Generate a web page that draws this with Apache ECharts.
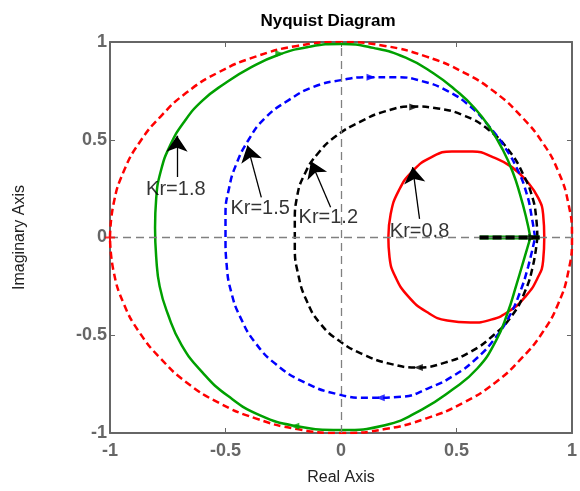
<!DOCTYPE html>
<html>
<head>
<meta charset="utf-8">
<script src="https://cdn.jsdelivr.net/npm/echarts@6/dist/echarts.min.js"></script>
<style>
  html, body { margin: 0; padding: 0; background: #fff; }
  #chart { width: 580px; height: 491px; }
</style>
</head>
<body>
<div id="chart"></div>
<script>
// axis ticks
const tickVals = [-1, -0.5, 0, 0.5, 1];

// traced curves (real, imag)
const unitRef = [[-1.0,0.0],[-0.985,0.17],[-0.94,0.34],[-0.87,0.49],[-0.78,0.62],[-0.67,0.74],[-0.53,0.845],[-0.37,0.925],[-0.19,0.98],[0.0,1.0],[0.19,0.98],[0.37,0.925],[0.53,0.845],[0.67,0.74],[0.78,0.62],[0.87,0.49],[0.94,0.34],[0.985,0.17],[1.0,0.0],[0.985,-0.17],[0.94,-0.34],[0.87,-0.49],[0.78,-0.62],[0.67,-0.74],[0.53,-0.845],[0.37,-0.925],[0.19,-0.98],[0.0,-1.0],[-0.19,-0.98],[-0.37,-0.925],[-0.53,-0.845],[-0.67,-0.74],[-0.78,-0.62],[-0.87,-0.49],[-0.94,-0.34],[-0.985,-0.17],[-1.0,0.0]];
const kr18 = [[0.82,0.0],[0.80,0.11],[0.775,0.22],[0.745,0.33],[0.70,0.45],[0.645,0.56],[0.58,0.66],[0.50,0.75],[0.40,0.84],[0.28,0.92],[0.14,0.97],[0.0,0.99],[-0.14,0.975],[-0.27,0.935],[-0.39,0.87],[-0.50,0.79],[-0.60,0.70],[-0.68,0.59],[-0.74,0.47],[-0.78,0.34],[-0.80,0.20],[-0.805,0.05],[-0.80,-0.10],[-0.785,-0.25],[-0.75,-0.39],[-0.69,-0.55],[-0.60,-0.69],[-0.49,-0.81],[-0.35,-0.91],[-0.19,-0.965],[0.0,-0.985],[0.19,-0.96],[0.35,-0.88],[0.48,-0.78],[0.59,-0.67],[0.67,-0.53],[0.72,-0.39],[0.76,-0.24],[0.795,-0.10],[0.82,0.0]];
const kr15 = [[0.84,0.0],[0.825,0.11],[0.805,0.22],[0.765,0.345],[0.71,0.46],[0.64,0.57],[0.56,0.67],[0.46,0.75],[0.35,0.80],[0.24,0.82],[0.12,0.82],[0.0,0.805],[-0.12,0.77],[-0.23,0.70],[-0.33,0.61],[-0.40,0.50],[-0.455,0.37],[-0.485,0.25],[-0.50,0.12],[-0.50,0.0],[-0.495,-0.14],[-0.475,-0.28],[-0.435,-0.41],[-0.37,-0.54],[-0.28,-0.65],[-0.16,-0.74],[-0.02,-0.80],[0.12,-0.82],[0.26,-0.815],[0.38,-0.77],[0.49,-0.705],[0.59,-0.615],[0.67,-0.51],[0.73,-0.40],[0.775,-0.28],[0.81,-0.15],[0.84,0.0]];
const kr12 = [[0.85,0.0],[0.845,0.1],[0.83,0.2],[0.79,0.32],[0.73,0.44],[0.64,0.55],[0.53,0.625],[0.42,0.66],[0.31,0.67],[0.19,0.645],[0.08,0.59],[-0.02,0.52],[-0.10,0.43],[-0.155,0.33],[-0.19,0.21],[-0.20,0.08],[-0.20,-0.05],[-0.185,-0.19],[-0.15,-0.32],[-0.09,-0.44],[0.0,-0.535],[0.10,-0.60],[0.21,-0.645],[0.33,-0.665],[0.45,-0.64],[0.56,-0.585],[0.66,-0.50],[0.74,-0.40],[0.795,-0.28],[0.83,-0.15],[0.85,0.0]];
const kr08 = [[0.205,0.0],[0.215,0.12],[0.25,0.24],[0.31,0.34],[0.39,0.41],[0.48,0.44],[0.57,0.44],[0.66,0.41],[0.74,0.36],[0.81,0.28],[0.855,0.2],[0.875,0.12],[0.88,0.0],[0.875,-0.12],[0.85,-0.21],[0.80,-0.30],[0.73,-0.375],[0.65,-0.42],[0.56,-0.435],[0.46,-0.425],[0.37,-0.38],[0.29,-0.30],[0.235,-0.20],[0.21,-0.10],[0.205,0.0]];
const tipSegment = [[0.6,0.0],[0.86,0.0]];

// direction arrows on curves: [x, y, rotate, colour]
const dirArrows = [[-0.265,0.94,-90,'#00a000'],[-0.20,-0.965,90,'#00a000'],[0.13,0.82,-90,'#0000ff'],[0.17,-0.82,90,'#0000ff'],[0.315,0.667,-90,'#000'],[0.335,-0.665,90,'#000'],[0.83,0.0,-90,'#000']];

// annotations
const notes = ['Kr=1.8', 'Kr=1.5', 'Kr=1.2', 'Kr=0.8'];
const notePos = [[-0.715,0.245],[-0.35,0.15],[-0.055,0.10],[0.34,0.03]];
const noteArrows = [[[-0.71,0.31],[-0.71,0.52]],[[-0.345,0.205],[-0.405,0.47]],[[-0.045,0.155],[-0.13,0.39]],[[0.34,0.095],[0.31,0.36]]];

const chart = echarts.init(document.getElementById('chart'));
const axisGray = '#666';
const font = 'Arial, "Liberation Sans", sans-serif';

function curve(name, data, color, dashed, width) {
    return {
        name: name, type: 'line', data: data, showSymbol: false, smooth: 0.5,
        lineStyle: { color: color, width: width, type: dashed ? [7, 4] : 'solid' },
        silent: true, z: 3
    };
}

const valAxis = (pos, show, margin) => ({
    type: 'value', position: pos, min: -1, max: 1, interval: 0.5,
    axisLine: { show: true, onZero: false, lineStyle: { color: axisGray, width: 2 } },
    axisTick: { show: true, inside: true, length: 5, lineStyle: { color: axisGray, width: 1 } },
    axisLabel: { show: show, color: axisGray, fontWeight: 'bold', fontSize: 18, fontFamily: font, margin: margin,
        formatter: v => tickVals.includes(v) ? String(v) : '' },
    splitLine: { show: false }
});

const option = {
    animation: false,
    title: {
        text: 'Nyquist Diagram', left: 323, top: 8, textAlign: 'center',
        textStyle: { fontSize: 17, fontWeight: 'bold', color: '#000', fontFamily: font }
    },
    grid: { left: 110, right: 3, top: 42, bottom: 55 },
    xAxis: [
        Object.assign(valAxis('bottom', true, 9), { name: 'Real Axis', nameLocation: 'middle', nameGap: 37,
            nameTextStyle: { fontSize: 16, color: '#222', fontFamily: font } }),
        valAxis('top', false, 8)
    ],
    yAxis: [
        Object.assign(valAxis('left', true, 3), { name: 'Imaginary Axis', nameLocation: 'middle', nameGap: 82,
            nameTextStyle: { fontSize: 16, color: '#222', fontFamily: font } }),
        valAxis('right', false, 3)
    ],
    series: [
        {
            type: 'line', data: [[0, 0]], showSymbol: false, lineStyle: { width: 0 }, z: 1, silent: true,
            markLine: {
                silent: true, symbol: 'none', label: { show: false },
                lineStyle: { color: '#808080', width: 1.3, type: [8, 5] },
                data: [{ xAxis: 0 }, { yAxis: 0 }]
            }
        },
        curve('ref', unitRef, '#ff0000', true, 2.5),
        curve('Kr=0.8', kr08, '#ff0000', false, 2.5),
        curve('Kr=1.2', kr12, '#000000', true, 2.5),
        curve('Kr=1.5', kr15, '#0000ff', true, 2.5),
        curve('Kr=1.8', kr18, '#00a000', false, 2.5),
        { type: 'line', data: tipSegment, showSymbol: false, lineStyle: { color: '#00a000', width: 4 }, z: 4, silent: true },
        { type: 'line', data: tipSegment, showSymbol: false, lineStyle: { color: '#000', width: 4, type: [9, 4] }, z: 5, silent: true },
        {
            type: 'scatter', silent: true, z: 6,
            data: dirArrows.map(a => ({ value: [a[0], a[1]], symbolRotate: a[2], itemStyle: { color: a[3] } })),
            symbol: 'triangle', symbolSize: [7, 9]
        },
        {
            type: 'scatter', silent: true, z: 6, data: [[-1, 0]],
            symbol: 'path://M0,5 L10,5 M5,0 L5,10', symbolSize: 10,
            itemStyle: { color: 'none', borderColor: '#ff0000', borderWidth: 2 }
        },
        {
            type: 'lines', coordinateSystem: 'cartesian2d', silent: true, z: 7,
            symbol: ['none', 'arrow'], symbolSize: 16,
            lineStyle: { color: '#000', width: 1.3, opacity: 1 },
            data: noteArrows.map(c => ({ coords: c }))
        },
        {
            type: 'scatter', silent: true, z: 8, symbolSize: 1,
            itemStyle: { color: 'rgba(0,0,0,0)' },
            data: notePos.map((p, i) => ({ value: p, name: notes[i] })),
            label: { show: true, position: 'inside', formatter: p => p.name, color: '#000', fontSize: 20, fontFamily: font }
        }
    ]
};

chart.setOption(option);
</script>
</body>
</html>
